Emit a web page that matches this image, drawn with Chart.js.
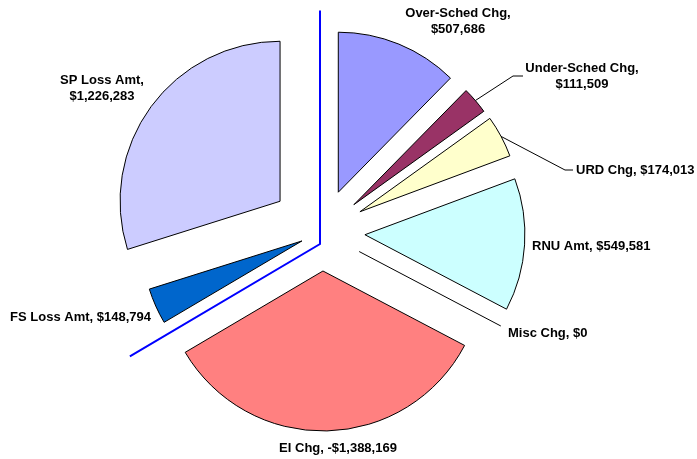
<!DOCTYPE html>
<html>
<head>
<meta charset="utf-8">
<script src="https://cdn.jsdelivr.net/npm/chart.js@4/dist/chart.umd.min.js"></script>
<style>
  html, body { margin: 0; padding: 0; background: #fff; }
  #wrap { width: 697px; height: 459px; position: relative; }
</style>
</head>
<body>
<div id="wrap"><canvas id="pie"></canvas></div>
<script>
const categories = ['Over-Sched Chg', 'Under-Sched Chg', 'URD Chg', 'RNU Amt', 'Misc Chg', 'EI Chg', 'FS Loss Amt', 'SP Loss Amt'];
const amounts = [507686, 111509, 174013, 549581, 0, -1388169, 148794, 1226283];

// styles
const sliceColors = ['#9999FF', '#993366', '#FFFFCC', '#CCFFFF', '#FFFFFF', '#FF8080', '#0066CC', '#CCCCFF'];
const explode = [43, 42, 43, 43, 42, 39, 22, 52];

// label placement relative to the pie centre: [dx, dy, align, lines split?]
const labelLayout = [
  { dx: 136, dy: -219, align: 'center', split: true },
  { dx: 260, dy: -164, align: 'center', split: true, elbow: [191, -156, 201, -156] },
  { dx: 254, dy: -62, align: 'left', split: false, elbow: [243, -62, 251, -62] },
  { dx: 210, dy: 14, align: 'left', split: false },
  { dx: 186, dy: 101, align: 'left', split: false },
  { dx: 16, dy: 216, align: 'center', split: false },
  { dx: -171, dy: 85, align: 'right', split: false },
  { dx: -220, dy: -152, align: 'center', split: true }
];

function money(v) {
  const s = '$' + Math.abs(v).toLocaleString('en-US');
  return v < 0 ? '-' + s : s;
}

const explodePlugin = {
  id: 'explode',
  beforeDatasetDraw(chart, args) {
    const ctx = chart.ctx;
    args.meta.data.forEach((arc, i) => {
      const mid = (arc.startAngle + arc.endAngle) / 2;
      const d = explode[i];
      ctx.save();
      ctx.translate(Math.cos(mid) * d, Math.sin(mid) * d);
      if (arc.circumference === 0) {
        // zero value: Excel still draws the radius
        ctx.beginPath();
        ctx.moveTo(arc.x, arc.y);
        ctx.lineTo(arc.x + Math.cos(mid) * arc.outerRadius, arc.y + Math.sin(mid) * arc.outerRadius);
        ctx.strokeStyle = '#000';
        ctx.lineWidth = 1;
        ctx.stroke();
      } else {
        arc.draw(ctx);
      }
      ctx.restore();
    });
    return false;
  },
  afterDatasetsDraw(chart) {
    const ctx = chart.ctx;
    const arcs = chart.getDatasetMeta(0).data;
    const cx = arcs[0].x, cy = arcs[0].y, r = arcs[0].outerRadius;

    // blue outline line
    const corner = [cx - 2, cy + 12];
    const fsStart = arcs[6].startAngle;
    const spEnd = arcs[7].endAngle;
    ctx.save();
    ctx.strokeStyle = '#0000FF';
    ctx.lineWidth = 2;
    ctx.beginPath();
    ctx.moveTo(corner[0] + Math.cos(spEnd) * r * 1.46, corner[1] + Math.sin(spEnd) * r * 1.46);
    ctx.lineTo(corner[0], corner[1]);
    ctx.lineTo(corner[0] + Math.cos(fsStart) * r * 1.38, corner[1] + Math.sin(fsStart) * r * 1.38);
    ctx.stroke();
    ctx.restore();

    // labels
    ctx.save();
    ctx.font = 'bold 13px "Liberation Sans", Arial, sans-serif';
    ctx.fillStyle = '#000';
    ctx.textBaseline = 'middle';
    arcs.forEach((arc, i) => {
      const L = labelLayout[i];
      const text = categories[i] + ', ' + money(amounts[i]);
      const lines = L.split ? [categories[i] + ',', money(amounts[i])] : [text];
      ctx.textAlign = L.align;
      lines.forEach((t, k) => ctx.fillText(t, cx + L.dx, cy + L.dy + k * 16));
      if (L.elbow) {
        const mid = (arc.startAngle + arc.endAngle) / 2;
        const rr = r + explode[i];
        ctx.beginPath();
        ctx.moveTo(cx + Math.cos(mid) * rr, cy + Math.sin(mid) * rr);
        ctx.lineTo(cx + L.elbow[0], cy + L.elbow[1]);
        ctx.lineTo(cx + L.elbow[2], cy + L.elbow[3]);
        ctx.strokeStyle = '#000';
        ctx.lineWidth = 1;
        ctx.stroke();
      }
    });
    ctx.restore();
  }
};

new Chart(document.getElementById('pie'), {
  type: 'pie',
  data: {
    labels: categories,
    datasets: [{
      data: amounts,
      backgroundColor: sliceColors,
      borderColor: '#000',
      borderWidth: 1,
      borderJoinStyle: 'miter'
    }]
  },
  options: {
    responsive: true,
    maintainAspectRatio: false,
    animation: false,
    events: [],
    radius: 160,
    layout: { padding: { left: 0, right: 53, top: 5, bottom: 0 } },
    plugins: {
      legend: { display: false },
      tooltip: { enabled: false }
    }
  },
  plugins: [explodePlugin]
});
</script>
</body>
</html>
